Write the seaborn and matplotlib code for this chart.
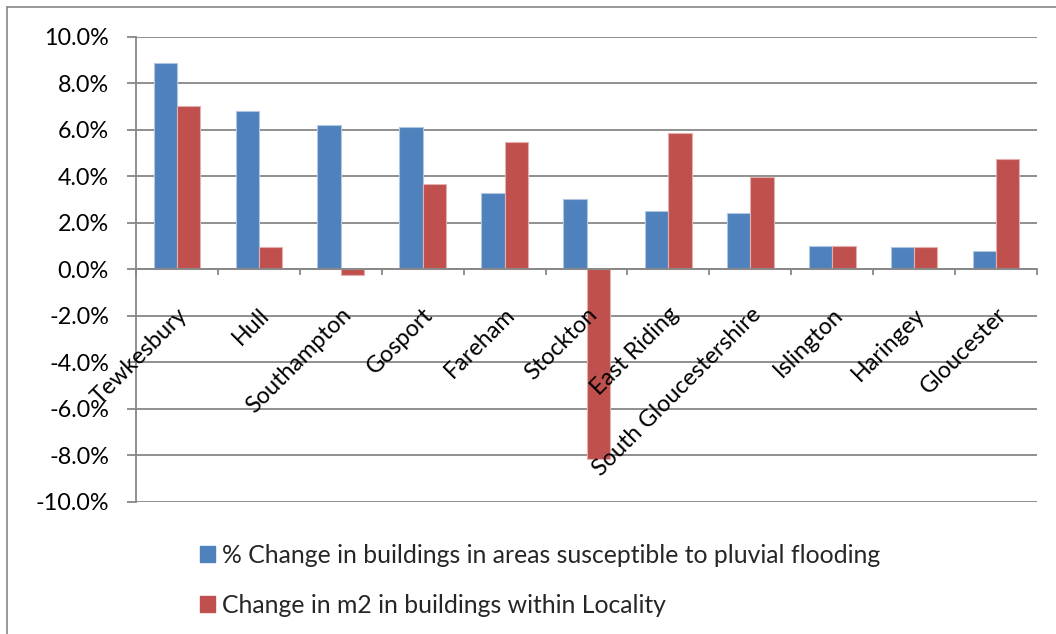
import matplotlib
matplotlib.use("Agg")
import matplotlib.pyplot as plt
import seaborn as sns
import pandas as pd
from matplotlib.patches import Patch
from matplotlib.lines import Line2D
from matplotlib.ticker import FuncFormatter, FixedLocator
from matplotlib.transforms import ScaledTranslation

# Localities and their percentage changes
localities = ["Tewkesbury", "Hull", "Southampton", "Gosport", "Fareham", "Stockton",
              "East Riding", "South Gloucestershire", "Islington", "Haringey", "Gloucester"]
pluvial_change = [8.86, 6.79, 6.21, 6.14, 3.30, 3.04, 2.51, 2.44, 0.99, 0.96, 0.79]
area_change = [7.04, 0.96, -0.24, 3.66, 5.47, -8.14, 5.87, 3.96, 0.99, 0.96, 4.76]
series_names = ["% Change in buildings in areas susceptible to pluvial flooding",
                "Change in m2 in buildings within Locality"]
y_ticks = [-10, -8, -6, -4, -2, 0, 2, 4, 6, 8, 10]

blue = "#4F81BD"
red = "#C0504D"
grid_grey = "#878787"

sns.set_theme(style="white")
plt.rcParams["font.family"] = ["Lato", "DejaVu Sans"]
FS = 16.8
LEG_FS = 17.8

df = pd.DataFrame({
    "Locality": localities * 2,
    "Value": pluvial_change + area_change,
    "Series": [series_names[0]] * len(localities) + [series_names[1]] * len(localities),
})

fig = plt.figure(figsize=(10.56, 6.34), dpi=100)
ax = fig.add_axes([136 / 1056, 1 - 502 / 634, (1037 - 136) / 1056, (502 - 36.7) / 634])

sns.barplot(data=df, x="Locality", y="Value", hue="Series", order=localities,
            hue_order=series_names, palette=[blue, red], width=0.57, gap=0,
            saturation=1, legend=False, ax=ax, zorder=3)

for bar in ax.patches:
    fc = bar.get_facecolor()
    edge = tuple(c + (1 - c) * 0.55 for c in fc[:3])
    bar.set_edgecolor(edge)
    bar.set_linewidth(0.8)

ax.set_ylim(-10, 10)
ax.set_xlim(-0.5, len(localities) - 0.5)
ax.set_yticks(y_ticks)
ax.yaxis.set_major_formatter(FuncFormatter(lambda v, p: f"{v:.1f}%"))
ax.set_xlabel("")
ax.set_ylabel("")

ax.yaxis.grid(True, color=grid_grey, linewidth=1.3, zorder=0)
ax.xaxis.grid(False)
ax.set_axisbelow(True)

for side in ["top", "right"]:
    ax.spines[side].set_visible(False)
ax.spines["left"].set_color(grid_grey)
ax.spines["left"].set_linewidth(1.3)
ax.spines["bottom"].set_position(("data", 0))
ax.spines["bottom"].set_color(grid_grey)
ax.spines["bottom"].set_linewidth(1.3)
ax.spines["bottom"].set_zorder(4)

ax.tick_params(axis="y", which="major", direction="out", length=6.5, width=1.3,
               color=grid_grey, pad=13, labelsize=FS, labelcolor="black", left=True)
# category boundary tick marks on the zero line
ax.xaxis.set_minor_locator(FixedLocator([i - 0.5 for i in range(len(localities) + 1)]))
ax.tick_params(axis="x", which="minor", direction="out", length=4.5, width=1.3,
               color=grid_grey, bottom=True)
ax.tick_params(axis="x", which="major", length=0, labelbottom=False)

# rotated category labels hanging below the zero line
offset = ScaledTranslation(7 / 100, -42 / 100, fig.dpi_scale_trans)
for i, name in enumerate(localities):
    ax.text(i, 0, name, rotation=45, rotation_mode="anchor", ha="right", va="center",
            fontsize=FS, color="black", transform=ax.transData + offset, zorder=5)

handles = [Patch(facecolor=blue, edgecolor=blue), Patch(facecolor=red, edgecolor=red)]
fig.legend(handles, series_names, loc="upper left",
           bbox_to_anchor=(200 / 1056, 1 - 544 / 634), frameon=False, fontsize=LEG_FS,
           handlelength=0.6, handleheight=0.6, handletextpad=0.3, labelspacing=1.08,
           borderpad=0, borderaxespad=0)

# outer chart frame
fig.add_artist(Line2D([7 / 1056, 1], [1 - 7 / 634, 1 - 7 / 634], transform=fig.transFigure,
                      color=grid_grey, linewidth=1.2))
fig.add_artist(Line2D([7 / 1056, 7 / 1056], [0, 1 - 7 / 634], transform=fig.transFigure,
                      color=grid_grey, linewidth=1.2))

fig.savefig("out.png", dpi=100, facecolor="white")
